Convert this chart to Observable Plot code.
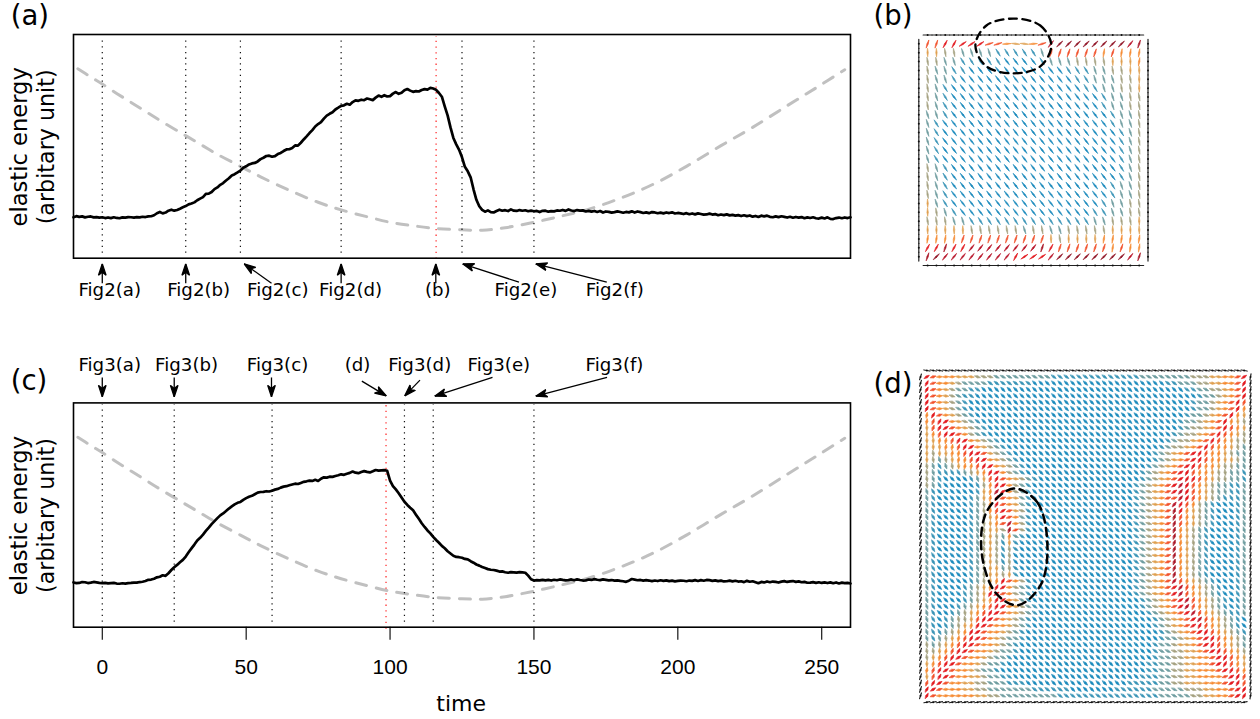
<!DOCTYPE html>
<html>
<head>
<meta charset="utf-8">
<script src="https://cdn.jsdelivr.net/npm/d3@7"></script>
<script src="https://cdn.jsdelivr.net/npm/@observablehq/plot@0.6"></script>
<style>
html,body{margin:0;padding:0;background:#fff;overflow:hidden}
#page{position:relative;width:1260px;height:719px;overflow:hidden;background:#fff}
#page svg{position:absolute;background:transparent;overflow:visible}
</style>
</head>
<body>
<div id="page"></div>
<script>
const timeGrid = d3.range(-10, 261);
const energyA = [41.0,42.1,41.4,41.9,40.9,41.5,41.8,40.9,41.2,40.6,
41.0,40.2,40.8,40.1,41.0,40.3,40.0,40.9,40.6,41.2,
41.0,40.6,41.2,40.9,41.5,41.2,41.9,42.0,43.0,45.0,
46.3,44.9,45.7,47.6,48.6,47.6,48.3,49.6,51.0,52.2,
53.9,54.7,55.9,58.0,59.7,61.2,64.4,64.7,66.3,69.2,
70.9,73.5,75.2,77.8,80.1,82.9,84.1,85.9,87.8,90.6,
92.0,93.9,94.9,95.4,96.9,99.2,100.6,102.3,102.7,101.6,
102.2,104.3,105.4,107.3,108.9,109.1,110.4,112.9,112.7,115.6,
118.9,122.0,125.3,128.2,131.9,134.3,136.2,139.8,142.8,144.6,
146.1,148.9,150.7,152.6,153.1,154.6,153.7,156.3,158.1,157.6,
158.7,158.2,159.9,159.1,158.3,160.8,162.8,161.6,163.2,161.9,
162.3,164.8,166.4,164.6,165.7,168.2,169.4,167.8,166.6,167.3,
166.9,168.4,169.3,168.8,170.5,169.9,168.6,165.4,161.7,152.0,143,131,120.4,114,108.5,101,91.5,87,81,69,58.5,52,48.4,46.6,47.9,46.2,45.8,47.3,48.6,47.5,
48.1,47.2,48.9,47.6,47.3,48.2,47.5,48.0,47.0,47.6,
47.0,47.3,46.2,47.4,47.6,46.6,47.2,46.9,47.8,47.5,
48.3,47.4,48.8,47.8,47.2,48.2,47.6,47.9,46.8,47.4,
46.6,47.3,46.3,47.2,45.7,46.8,46.4,45.6,46.1,46.9,
46.2,45.5,46.3,45.9,46.9,45.7,46.8,46.1,45.3,45.9,
45.1,46.2,45.8,45.0,45.6,44.9,45.8,45.2,45.9,44.8,
45.3,44.9,44.2,45.1,44.0,44.8,43.9,44.9,44.3,43.6,
43.8,44.6,43.7,44.2,43.0,43.8,43.1,43.9,42.9,43.4,
42.6,43.1,42.2,43.0,42.1,42.8,41.6,42.3,41.3,42.6,
41.9,42.6,41.4,41.0,41.9,41.1,42.0,41.4,40.7,41.5,
40.5,41.3,40.6,41.2,40.0,40.9,40.3,41.0,40.0,39.7,
40.6,39.8,40.9,39.4,39.2,40.2,40.7,40.0,40.8,40.2,41.0];
const energyC = [44.7,44.0,44.2,45.1,44.9,44.1,44.5,45.2,44.8,44.3,
44.0,44.3,43.7,44.1,44.3,43.6,43.4,43.9,43.6,44.0,
44.2,44.6,44.5,45.1,45.4,46.1,47.3,47.6,48.4,49.8,
50.4,51.9,51.3,53.9,57.1,59.9,62.2,64.8,67.2,70.6,
74.8,78.7,82.5,86.6,89.3,92.5,96.2,99.4,102.9,105.9,
108.9,111.7,113.6,116.0,118.5,120.6,122.6,124.2,125.1,127.2,
128.9,130.3,131.2,132.8,134.4,135.0,135.2,135.8,135.5,136.3,
137.4,138.1,139.4,140.4,140.8,141.7,142.5,143.3,143.0,144.1,
145.2,145.7,146.4,146.1,147.2,146.0,148.3,149.7,149.4,150.3,
150.1,151.0,151.7,152.7,152.2,153.3,154.1,155.5,154.3,153.8,
155.0,155.9,155.1,154.6,155.7,157.0,156.4,156.7,156.9,156.2,146.4,141,137.6,133.8,129.5,125.3,122.1,119.3,116.7,112.4,
108.2,103.8,100.1,96.6,93.7,90.2,87.1,84.3,81.2,78.9,
75.9,73.6,71.3,70.2,69.9,69.4,68.2,67.7,65.9,64.4,
62.6,61.5,60.1,59.1,58.0,57.4,57.1,56.5,55.6,55.7,
54.9,54.4,55.0,54.8,54.5,55.0,54.7,54.4,51.5,47.9,
46.6,47.0,46.7,47.3,46.8,47.2,46.6,47.4,46.9,47.7,
47.2,46.8,47.0,47.7,46.9,47.8,47.1,46.6,46.8,47.6,
47.2,48.0,47.4,47.0,47.7,47.3,46.8,47.1,46.5,46.7,
46.2,45.9,45.3,46.5,48.1,47.5,46.9,47.2,46.5,47.0,
46.6,46.0,46.6,46.1,46.9,46.3,46.8,46.0,46.5,45.8,
46.2,46.6,46.4,45.9,46.6,46.3,47.0,46.2,47.0,46.4,
47.2,47.0,46.3,46.8,46.0,46.5,45.7,45.9,46.5,45.8,
46.4,45.6,45.9,45.0,46.3,45.4,45.9,44.9,43.9,45.2,
44.7,45.7,44.9,45.6,45.2,44.6,45.5,46.0,45.2,45.7,
46.1,45.3,45.8,44.9,45.3,44.4,44.6,45.0,44.3,44.9,
44.2,44.7,44.1,44.8,43.9,44.7,43.7,44.5,44.0,44.3,43.6];
const timeStress = [-8.5,-4,0,5,10,15,20,29,35,40,48,55,65,75,83,92,100,108,116,125,132,140,150,160,168.6,180,191.7,203,215,226,238,248,258];
const stress = [189.7,181.5,174.4,165,156,147,138,122.7,112.5,104,92,81.5,68,56,48.4,41.5,36,32.5,29.7,28.4,28,30.5,36,42.5,48.7,60,74.4,92,112.7,131,152.7,170.5,188.7];

const marksA = [0,29,48,83,125,150];
const markRedA = [116];
const marksC = [0,25,59,105,115,150];
const markRedC = [98.6];

const labelsA = ["Fig2(a)","Fig2(b)","Fig2(c)","Fig2(d)","(b)","Fig2(e)","Fig2(f)"];
const labelTimeA = [2.6,33.5,61,86.3,116.6,147.2,178.1];
const arrowFromA = [0,29,58.8,83,115.9,144.8,175.3];
const arrowToA = [0,29,49.3,83,115.9,125.2,150.6];
const labelsC = ["Fig3(a)","Fig3(b)","Fig3(c)","(d)","Fig3(d)","Fig3(e)","Fig3(f)"];
const labelTimeC = [2.6,29.3,60.9,88.7,110.3,137.8,178];
const arrowFromC = [0,25,58.8,90.2,110.4,135.6,175.4];
const arrowToC = [0,25,58.8,98.7,105.1,115.5,150.6];
const arrowStartC = [249.4,249.4,249.4,245.7,246.7,249.4,249.4];
const arrowEndC = [230,230,230,231,231,230.7,230.7];

const tickValues = [0,50,100,150,200,250];

// director states: one char per rod, [angle in degrees, colour]
const rodStates = {
  ".":[-50,"#1a8abc"],
  "A":[-58,"#3a94b6"], "B":[-72,"#6f9da0"], "C":[-80,"#a5a180"], "D":[-88,"#dfa050"],
  "E":[82,"#f68b33"], "F":[72,"#f2502a"], "G":[62,"#e3191f"], "H":[52,"#b8152a"],
  "I":[45,"#911628"], "J":[72,"#a81626"],
  "a":[-35,"#3a94b6"], "b":[-25,"#6f9da0"], "c":[-15,"#a5a180"], "d":[-5,"#dfa050"],
  "e":[4,"#f68b33"], "f":[18,"#f2502a"], "g":[34,"#e3191f"]
};

const fieldB = [
"FFGGgggffeddefHIIIIIIIIHJ",
"DDCCBBBBAAAAABFFFFFFEFEEE",
"CCBBAAAAA....ABBBCCCCDDDE",
"CBBAA...........AAABBCCDD",
"CBBA.............AABBBCCD",
"CBA...............AABBCCD",
"CBA.................ABBCC",
"CBA.................ABBCC",
"BBA..................ABBC",
"BA...................ABBC",
"BA....................ABC",
"BA....................ABC",
"BA....................ABC",
"BA....................ABC",
"CBA...................ABC",
"CBA...................ABC",
"CBA..................ABBC",
"CBA..................ABBC",
"DBA.................ABBCC",
"DCBA...............AABBCC",
"CCCBBAAAAAAAAAAAAAABBCCCD",
"DDDDDCCCCCCBCCBBCCCCCDDDD",
"EEEEFFFFFFFFFFDCDDDDEEEEE",
"GGJGGHHHHHHHHJGFFFFFFEFEE",
"JIHHHHHHHHGgggHIIIIIIIIHJ"
];

// sparse rows: "startColumn:states", every other cell stays "."
const fieldD = [
"0:gfeeedddcccbbbbbbbbbaaaaaaaaaa 30:aaaabbbbbbbbcccddeefg",
"0:Gfeedcbbbbaaaaaaa 38:aabbbccddeefG",
"0:Gfedcbbaa 41:aabbccdefG",
"0:Gfedcbaa 43:abbcdefG",
"0:Gfedcba 42:abbcdefGF",
"0:Gfedcba 42:abbcdefGE",
"0:EGfedcba 41:abbcdefGED",
"0:EFGgedcba 40:abbcdefGEDC",
"0:DFGgfedcba 40:abccdefGFED",
"0:DEFGgfecba 39:abccdefGFEDC",
"0:DDEEFGgedcba 38:abccdefGFEDCC",
"0:DDDEEFGgedcba 37:abccdefGFEEDCB",
"0:DCDDEEFGgfdcba 36:abcdefgGFEEDCBB",
"0:DCBCDEEFGgedcba 36:abcdefgGFEEDDCB",
"0:CBABCDEEFGgedcba 35:abcdefgGFEEDCCBB",
"0:CBAAAABCDEGgecba 34:abcdefgGFEEDCCBBA",
"0:CBA 7:ABDFGfedcba 34:abcdefgGGFEDCCBBA",
"0:CBA 8:ACEGgecba 33:abcdefgHGFEDCBBAAB",
"0:BA 8:ADEHgecba 33:abcdefgHGFEDCBBAAB",
"0:BA 7:ABDEGfedba 33:abcdeffHGFEDCBAAAB",
"0:BA 7:ABCEGfedba 33:abcdefHGFECBA 49:AB",
"0:BA 7:ABCEFgfdca 33:abcdefJGEDCBA 49:AB",
"0:BA 7:ABCDEgfeba 33:abcdefJFEDCBA 49:AB",
"0:BA 7:ABCDEfHeca 33:abcdefJFEDCBA 49:AB",
"0:BA 7:ABCDDcJfca 33:abcdefJEDCBA 49:AB",
"0:BA 7:ABCDCBEba 33:abcdefJEDCBA 49:AB",
"0:BA 7:ABCDCADa 33:abcdefJEDCBA 49:AB",
"0:BA 7:ABCDCACa 33:abcdefJEDCBA 49:AB",
"0:BA 7:ABCDCAC 33:abcdefJEDCBA 49:AB",
"0:BA 7:ABCDCAC 33:abcdefJEDCBA 49:AB",
"0:BA 7:ABCDDBCa 33:abcdefJEDCBA 49:AB",
"0:BA 7:ABCDDCDa 33:abcdefJEDCBA 49:AB",
"0:BA 7:ABCDEGfeca 33:abcdefHFEDCBA 49:AB",
"0:BA 6:ABCDEGgecba 33:abcdefgHFEDCBA 49:AB",
"0:BA 6:ABCDGgfecba 33:abcdefgHFEDCBA 49:AB",
"0:BA 6:ABCDEGgedba 34:abcdefgHFEDCBA 49:AB",
"0:BA 5:ABCDEFGgedcba 34:abcdefgHFEDCBA 49:AB",
"0:BA 4:ABCDEFGgfedcba 35:abcdefgHFEDCBA 49:AB",
"0:BA 3:ABCCDFGgfedcba 36:abcdefgHFEDCBA",
"0:BA 3:ABCDEGgfeedcba 36:abcdefgGFEDCBA",
"0:BA 2:ABCDEGgfeedcba 37:abcdefgGFEDCBA",
"0:BABCDEFGgfedcbba 37:abbcdefgGFEDCB",
"0:CBCDEFGgfeedcba 36:abbcddefgGFEDCB",
"0:CCDEFGgfeedcbba 36:abbccddefgGFEDC",
"0:CDEFGgfeedcbba 36:abbccddeefgGFED",
"0:DEFGgfeedcbba 35:aabbccddeefgGFED",
"0:EFGgfeedcbba 35:aabbccddeeefgGFE",
"0:DFGgfeeddcbbaa 34:aaabbccddeeeefgGF",
"0:FGgfeeddccbbbaaa 32:aaaaabbccdddeeefgGF",
"0:Ggfeeeddccbbbbbbbaaaaaa 30:aaaaaabbbbbcccddeefgG",
"0:Gfeeeeeeddccbbbbbbbbba 22:aaaaaaaaaaaaaaabbbbbccddeefgG"
];

const ringBCol = [9.72,12.78,14.03,12.78,9.72,6.67,5.42,6.67];
const ringBRow = [-2.85,-2.07,0.18,2.54,3.33,2.54,0.18,-2.07];
const ringDCol = [13.65,17.43,19,17.9,14.28,10.8,8.6,9.55];
const ringDRow = [17.5,19.7,26.4,32.7,35.8,33.8,27.2,20.9];

const FONT = "DejaVu Sans, Verdana, sans-serif";
const page = document.getElementById("page");

function stealth(color, context) {
  const doc = context.document;
  const ns = "http://www.w3.org/2000/svg";
  const m = doc.createElementNS(ns, "marker");
  m.setAttribute("viewBox", "-12 -5 12 10");
  m.setAttribute("markerWidth", 12);
  m.setAttribute("markerHeight", 10);
  m.setAttribute("markerUnits", "userSpaceOnUse");
  m.setAttribute("refX", 0);
  m.setAttribute("refY", 0);
  m.setAttribute("orient", "auto");
  const p = doc.createElementNS(ns, "path");
  p.setAttribute("d", "M0,0L-11.5,-3.8L-8.5,0L-11.5,3.8Z");
  p.setAttribute("fill", "#000");
  m.appendChild(p);
  return m;
}

const stickShape = {draw(c, l) { c.moveTo(0, 0); c.lineTo(0, -l); }};
const spindle = w => ({draw(c, l) {
  c.moveTo(0, 0);
  c.lineTo(w, -l / 2);
  c.lineTo(0, -l);
  c.lineTo(-w, -l / 2);
  c.closePath();
}});
const rotateOf = a => 90 - a;

function place(svg, left, top) {
  svg.style.left = left + "px";
  svg.style.top = top + "px";
  page.appendChild(svg);
}

function energyPanel(o) {
  const curve = timeGrid.map((t, i) => ({t, e: o.energy[i]}));
  const stressLine = timeStress.map((t, i) => ({t, e: stress[i]}));
  const marks = [
    Plot.line(stressLine, {x:"t", y:"e", stroke:"#c0c0c0", strokeWidth:3, strokeDasharray:"11,10", curve:"catmull-rom"}),
    Plot.ruleX(o.black, {y1:o.ruleLow, y2:222, stroke:"#111", strokeWidth:1.2, strokeDasharray:"1.3,4.4"}),
    Plot.ruleX(o.red, {y1:o.ruleLowRed, y2:222, stroke:"#ff2020", strokeWidth:1.2, strokeDasharray:"1.3,4.4"}),
    Plot.line(curve, {x:"t", y:"e", stroke:"#000", strokeWidth:2.7, strokeLinejoin:"round"}),
    Plot.frame({stroke:"#000", strokeWidth:1.6}),
    Plot.link(o.labels.map((s, i) => i), {
      x1:i => o.from[i], x2:i => o.to[i], y1:i => o.y1[i], y2:i => o.y2[i],
      stroke:"#000", strokeWidth:1.3, markerEnd:stealth
    }),
    Plot.text(o.labels, {x:(d, i) => o.labelTime[i], y:o.labelY, text:d => d, fontSize:18.2, fontFamily:FONT, fill:"#000"}),
    Plot.text([o.name], {x:-31.8, y:o.nameY, text:d => d, textAnchor:"start", fontSize:27.5, fontFamily:FONT, fill:"#000"}),
    Plot.text(["elastic energy"], {x:-28.5, y:111.5, text:d => d, rotate:-90, fontSize:22.6, fontFamily:FONT, fill:"#000"}),
    Plot.text(["(arbitary unit)"], {x:-19.3, y:111.5, text:d => d, rotate:-90, fontSize:22.2, fontFamily:FONT, fill:"#000"}),
    ...(o.extra || [])
  ];
  return Plot.plot({
    width:870, height:o.height,
    marginLeft:73, marginRight:20, marginTop:o.top, marginBottom:o.bottom,
    x:{domain:[-10,260], axis:null},
    y:{domain:[0,224], axis:null},
    style:{background:"transparent", overflow:"visible"},
    marks
  });
}

place(energyPanel({
  name:"(a)", nameY:242, energy:energyA,
  black:marksA, red:markRedA, ruleLow:5, ruleLowRed:-1,
  labels:labelsA, labelTime:labelTimeA, labelY:-32,
  from:arrowFromA, to:arrowToA,
  y1:[-25,-25,-25,-25,-25,-24,-24], y2:[-5.6,-5.6,-5.6,-5.6,-5.6,-5.6,-5.6],
  height:320, top:34, bottom:62.3
}), 0, 0);

place(energyPanel({
  name:"(c)", nameY:245.5, energy:energyC,
  black:marksC, red:markRedC, ruleLow:5, ruleLowRed:-2,
  labels:labelsC, labelTime:labelTimeC, labelY:261.7,
  from:arrowFromC, to:arrowToC, y1:arrowStartC, y2:arrowEndC,
  height:369, top:52.4, bottom:92.3,
  extra:[
    Plot.axisX(tickValues, {anchor:"bottom", tickSize:13, tickPadding:19, fontSize:21, fontFamily:"Liberation Sans, Arial, sans-serif", stroke:"#000", strokeWidth:1.1, fill:"#000", tickFormat:d => String(d), label:null}),
    Plot.text(["time"], {x:124.7, y:-77, text:d => d, fontSize:22, fontFamily:FONT, fill:"#000"})
  ]
}), 0, 350);

function rodsOf(rows, baseAngle, sparse, n) {
  const out = [];
  rows.forEach((row, r) => {
    let cells;
    if (sparse) {
      cells = new Array(n).fill(".");
      row.split(" ").forEach(seg => {
        const [start, chars] = seg.split(":");
        [...chars].forEach((ch, k) => { if (+start + k < n) cells[+start + k] = ch; });
      });
    } else cells = [...row];
    cells.forEach((ch, c) => {
      const s = rodStates[ch];
      out.push({c, r, rotate:rotateOf(ch === "." ? baseAngle : s[0]), color:s[1]});
    });
  });
  return out;
}

function fieldPanel(o) {
  const n = o.n;
  const span = d3.range(0, n);
  const walls = [
    ...span.map(i => ({c:i, r:-1, rotate:rotateOf(o.topAngle)})),
    ...span.map(i => ({c:i, r:n, rotate:rotateOf(o.bottomAngle)})),
    ...span.map(i => ({c:-1, r:i, rotate:rotateOf(o.leftAngle)})),
    ...span.map(i => ({c:n, r:i, rotate:rotateOf(o.rightAngle)}))
  ];
  const ring = o.ringCol.map((c, i) => ({c, r:o.ringRow[i]}));
  return Plot.plot({
    width:390, height:o.height,
    marginLeft:o.left, marginRight:o.right, marginTop:o.top, marginBottom:o.bottom,
    x:{domain:[-1,n], axis:null},
    y:{domain:[n,-1], axis:null},
    style:{background:"transparent", overflow:"visible"},
    marks:[
      Plot.vector(o.rods, {x:"c", y:"r", rotate:"rotate", length:o.len, anchor:"middle", shape:spindle(o.halfWidth), stroke:"color", fill:"color", strokeWidth:o.sw, strokeLinejoin:"round"}),
      Plot.vector(walls, {x:"c", y:"r", rotate:"rotate", length:o.wallLen, anchor:"middle", shape:stickShape, stroke:"#222", strokeWidth:1.2}),
      Plot.dot(walls, {x:"c", y:"r", r:1, fill:"#111"}),
      Plot.line(ring, {x:"c", y:"r", curve:"catmull-rom-closed", stroke:"#000", strokeWidth:o.ringWidth, strokeDasharray:"8,5.5"}),
      Plot.text([o.name], {x:o.nameCol, y:o.nameRow, text:d => d, textAnchor:"start", fontSize:27.5, fontFamily:FONT, fill:"#000"})
    ]
  });
}

place(fieldPanel({
  n:25, rods:rodsOf(fieldB, -52, false, 25), len:8.2, halfWidth:0.7, sw:0.6, wallLen:8.9, ringWidth:2.3,
  topAngle:0, bottomAngle:0, leftAngle:90, rightAngle:90,
  ringCol:ringBCol, ringRow:ringBRow, name:"(b)", nameCol:-6.13, nameRow:-3.08,
  height:300, left:48.3, right:112.5, top:34.5, bottom:35
}), 870, 0);

place(fieldPanel({
  n:51, rods:rodsOf(fieldD, -44, true, 51), len:6, halfWidth:1.15, sw:0.6, wallLen:6, ringWidth:2.5,
  topAngle:-10, bottomAngle:10, leftAngle:72, rightAngle:80,
  ringCol:ringDCol, ringRow:ringDRow, name:"(d)", nameCol:-8.4, nameRow:1.2,
  height:369, left:50, right:10, top:20, bottom:17.3
}), 870, 350);
</script>
</body>
</html>
